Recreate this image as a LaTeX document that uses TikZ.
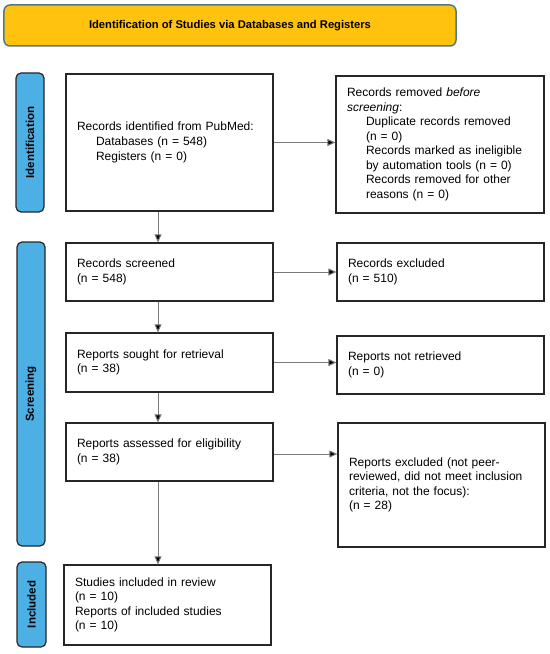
\documentclass[tikz,border=0pt]{standalone}
\usepackage{fontspec}
\setmainfont{Liberation Sans}
\usetikzlibrary{arrows.meta}
\definecolor{bannerfill}{HTML}{FFC20E}
\definecolor{bannerdraw}{HTML}{4E7C84}
\definecolor{sidefill}{HTML}{4DB0E4}
\definecolor{linegray}{HTML}{7A7A7A}
\tikzset{
  box/.style={draw=black!85, line width=1.2bp, fill=white, inner xsep=11bp, inner ysep=0bp,
    align=left, font=\fontsize{12bp}{14.5bp}\selectfont},
  side/.style={draw=black!85, line width=1.2bp, fill=sidefill, rounded corners=5bp, rotate=90,
    inner sep=0bp, font=\bfseries\fontsize{11.5bp}{13bp}\selectfont},
  banner/.style={draw=bannerdraw, line width=1.5bp, fill=bannerfill, rounded corners=6bp,
    font=\bfseries\fontsize{11.2bp}{13bp}\selectfont},
  arr/.style={draw=linegray, line width=1bp, -{Triangle[length=8bp,width=7bp,fill=black]}},
}
\newcommand{\ind}{\hspace*{19bp}}
\begin{document}
\begin{tikzpicture}[x=1bp,y=-1bp]
\useasboundingbox (0,0) rectangle (550,654);
\node[banner, minimum width=452bp, minimum height=41bp] (title) at (230,25.5)
  {Identification of Studies via Databases and Registers};
% side labels
\node[side, minimum width=139bp, minimum height=28bp] (sid) at (30,142.5) {Identification};
\node[side, minimum width=304bp, minimum height=28bp] (sscr) at (31,394) {Screening};
\node[side, minimum width=85bp, minimum height=29bp] (sinc) at (31.5,604.5) {Included};
% left boxes
\node[box, minimum width=207bp, text width=185bp, minimum height=137bp,
  font=\fontsize{12bp}{15.3bp}\selectfont] (b1) at (169.5,142.5)
  {Records identified from PubMed:\\\ind Databases (n = 548)\\\ind Registers (n = 0)};
\node[box, minimum width=207bp, text width=185bp, minimum height=58bp] (scr) at (169.5,272)
  {Records screened\\(n = 548)};
\node[box, minimum width=207bp, text width=185bp, minimum height=59bp] (sgt) at (169.5,362.5)
  {Reports sought for retrieval\\(n = 38)};
\node[box, minimum width=207bp, text width=185bp, minimum height=58bp] (asd) at (169.5,452)
  {Reports assessed for eligibility\\(n = 38)};
\node[box, minimum width=207bp, text width=185bp, minimum height=80bp] (inc) at (167.5,605)
  {Studies included in review\\(n = 10)\\Reports of included studies\\(n = 10)};
% right boxes
\node[box, minimum width=208bp, text width=186bp, minimum height=137bp] (rem) at (440,144.5)
  {Records removed \emph{before}\\\emph{screening}:\\\ind Duplicate records removed\\\ind (n = 0)\\\ind Records marked as ineligible\\\ind by automation tools (n = 0)\\\ind Records removed for other\\\ind reasons (n = 0)};
\node[box, minimum width=207bp, text width=185bp, minimum height=58bp] (exc) at (440.5,272)
  {Records excluded\\(n = 510)};
\node[box, minimum width=207bp, text width=185bp, minimum height=58bp] (nrt) at (440.5,365)
  {Reports not retrieved\\(n = 0)};
\node[box, minimum width=207bp, text width=185bp, minimum height=124bp] (rex) at (441.5,485)
  {Reports excluded (not peer-\\reviewed, did not meet inclusion\\criteria, not the focus):\\(n = 28)};
% connectors
\coordinate (ax) at (158,0);
\draw[arr] (b1.south -| ax) -- (scr.north -| ax);
\draw[arr] (scr.south -| ax) -- (sgt.north -| ax);
\draw[arr] (sgt.south -| ax) -- (asd.north -| ax);
\draw[arr] (asd.south -| ax) -- (inc.north -| ax);
\draw[arr] (b1.east) -- (b1.east -| rem.west);
\draw[arr] (scr.east) -- (scr.east -| exc.west);
\draw[arr] (sgt.east) -- (sgt.east -| nrt.west);
\draw[arr] ([yshift=-2bp]asd.east) -- ([yshift=-2bp]asd.east -| rex.west);
\end{tikzpicture}
\end{document}
